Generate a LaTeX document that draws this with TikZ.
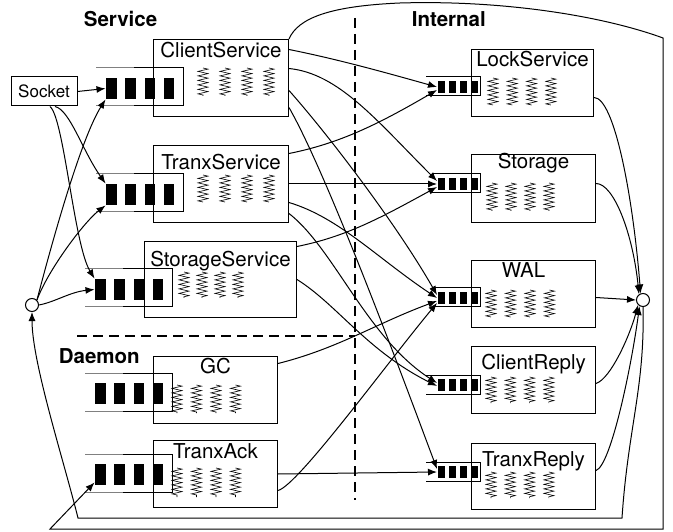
\documentclass[tikz,border=0pt]{standalone}
\usepackage{fontspec}
\setmainfont{TeX Gyre Heros}
\usetikzlibrary{arrows.meta,decorations.pathmorphing}

\newcommand{\modfont}{\fontsize{20.5}{24}\selectfont}

\tikzset{
  module/.style={draw,rectangle,inner sep=0pt,anchor=north west},
  bigbar/.style={fill=black,inner sep=0pt,minimum width=10.5pt,minimum height=21pt,anchor=north west},
  smallbar/.style={fill=black,inner sep=0pt,minimum width=7pt,minimum height=12pt,anchor=north west},
  worker/.style={line width=0.6pt,decorate,decoration={zigzag,segment length=4.5pt,amplitude=5pt}},
  flow/.style={-{Latex[length=9pt,width=7pt]}},
  hub/.style={circle,draw,fill=white,inner sep=0pt,minimum size=13pt},
  title/.style={font=\modfont\bfseries,anchor=base west},
  divider/.style={line width=2pt,dash pattern=on 10pt off 6pt}
}

\begin{document}
\begin{tikzpicture}[x=1pt,y=-1pt,line width=1pt,font=\modfont]
  \useasboundingbox (0,0) rectangle (673,532);

  % modules: name/left/top/right/bottom/text/baseline/shift
  \foreach \n/\xa/\ya/\xb/\yb/\txt/\base/\dx in {
      cs/153/39/288/116/ClientService/19/0,
      ts/153/145/288/222/TranxService/25/0,
      ss/144/241/296/317/StorageService/26/0,
      gc/153/356/277/423/GC/17/0,
      ta/153/440/277/507/TranxAck/18/0,
      lock/471/49/593/116/LockService/18/0,
      stor/471/154/595/222/Storage/15/0,
      wal/471/260/595/327/WAL/17/-10,
      crep/471/346/595/413/ClientReply/23/0,
      trep/471/443/595/509/TranxReply/23/0}
  {
    \node[module,minimum width={(\xb-\xa)*1pt},minimum height={(\yb-\ya)*1pt}] (\n) at (\xa,\ya) {};
    \node[anchor=base] (\n-txt) at ([xshift=\dx pt,yshift=-\base pt]\n.north) {\txt};
  }

  % worker threads: first x/spacing/top/bottom
  \foreach \x/\s/\ya/\yb in {203/22/68/96, 203/22/175/202, 184/18/272/298,
      177/19.5/385/413, 177/19.5/468/497, 493/19.3/78/105, 492/19/183/211,
      491/19.5/290/317, 491/19.3/377/403, 491/19.3/472/498}
    \foreach \i in {0,...,3}
      \draw[worker] ({\x+\s*\i},\ya) -- ({\x+\s*\i},\yb);

  % service queues
  \foreach \q/\xa/\ya in {csq/96/68, tsq/96/174, ssq/85/269, gcq/85/373, taq/85/454} {
    \draw[black!50] (\xa,\ya) -- (\xa+38,\ya) (\xa,\ya+38) -- (\xa+38,\ya+38);
    \draw (\xa+38,\ya) -- (\xa+87,\ya) -- (\xa+87,\ya+38) -- (\xa+38,\ya+38);
    \foreach \i in {1,...,4}
      \node[bigbar] (\q\i) at ({\xa+9.5+19.3*(\i-1)},\ya+9.5) {};
  }

  % internal queues
  \foreach \q/\xa/\ya in {lockq/426/77, storq/432/174, walq/433/288, crepq/426/375, trepq/426/462} {
    \draw (\xa,\ya) -- (480,\ya) -- (480,\ya+19) -- (\xa,\ya+19);
    \foreach \i in {1,...,4}
      \node[smallbar] (\q\i) at ({437+11*(\i-1)},\ya+3.5) {};
  }

  \node[draw,minimum width=66pt,minimum height=29pt,inner sep=0pt,font=\fontsize{17}{20}\selectfont] (sock) at (44,91.5) {Socket};
  \node[hub] (lc) at (32,305) {};
  \node[hub] (rc) at (643,300) {};

  \node[title] (svc) at (80,27) {Service};
  \node[title] (int) at (408,27) {Internal};
  \node[title] (dmn) at (55,363) {Daemon};

  \draw[divider] (355,18) -- (355,500);
  \draw[divider] (77,336) -- (355,336);

  % requests in
  \draw[flow] (sock.east) -- (csq1.west);
  \draw[flow] ([xshift=11pt]sock.south) .. controls (70,110) and (82,150) .. (tsq1.north west);
  \draw[flow] ([xshift=6pt]sock.south) .. controls (64,118) and (74,245) .. (ssq1.north west);
  \draw[flow] (lc.north east) .. controls (50,250) and (80,140) .. (csq1.south west);
  \draw[flow] (lc.north east) .. controls (48,270) and (84,222) .. (tsq1.south west);
  \draw[flow] (lc.east) .. controls (55,302) and (70,292) .. (ssq1.west);

  % service to internal
  \draw[flow] ([yshift=28.5pt]cs.east) .. controls +(50,10) and +(-50,-14) .. (lockq1.west);
  \draw[flow] ([yshift=9.5pt]cs.east) .. controls +(50,5) and +(-60,-60) .. ([yshift=3pt]storq1.west);
  \draw[flow] ([yshift=-12.5pt]cs.east) .. controls +(40,45) and +(-40,-70) .. ([yshift=3pt]walq1.west);
  \draw[flow] ([yshift=-29.5pt]cs.east) .. controls +(40,70) and +(-30,-80) .. ([yshift=3pt]trepq1.west);
  \draw[flow] ([yshift=30.5pt]ts.east) .. controls +(50,-10) and +(-60,35) .. ([yshift=-3pt]lockq1.west);
  \draw[flow] (ts.east) -- (storq1.west);
  \draw[flow] ([yshift=-18.5pt]ts.east) .. controls +(50,15) and +(-60,-40) .. (walq1.west);
  \draw[flow] ([yshift=-29.5pt]ts.east) .. controls +(45,35) and +(-70,-45) .. ([yshift=2pt]crepq1.west);
  \draw[flow] ([yshift=33pt]ss.east) .. controls +(50,-10) and +(-55,30) .. ([yshift=-3pt]storq1.west);
  \draw[flow] (ss.east) .. controls +(40,25) and +(-70,-35) .. ([yshift=-1pt]crepq1.west);
  \draw[flow] ([yshift=26.5pt]gc.east) .. controls +(60,-15) and +(-60,22) .. ([yshift=-3pt]walq1.west);
  \draw[flow] ([yshift=-16.5pt]ta.east) .. controls +(20,-5) and +(-50,60) .. ([yshift=-5pt]walq1.west);
  \draw[flow] (ta.east) -- (trepq1.west);

  % internal to reply hub
  \draw[flow] ([yshift=-14.5pt]lock.east) .. controls +(20,0) and +(-8,-100) .. (rc.110);
  \draw[flow] ([yshift=5pt]stor.east) .. controls +(18,0) and +(-6,-60) .. (rc.125);
  \draw[flow] ([yshift=-3.5pt]wal.east) -- (rc.west);
  \draw[flow] ([yshift=-3.5pt]crep.east) .. controls +(15,-5) and +(-8,30) .. (rc.225);
  \draw[flow] ([yshift=6pt]trep.east) .. controls +(15,-5) and +(-8,60) .. (rc.240);

  % loops back
  \coordinate (br) at (622,518);
  \coordinate (bl) at (78,518);
  \draw[flow] (rc.south) .. controls +(2,80) and +(6,-90) .. (br) -- (bl) .. controls +(-15,-60) and +(0,50) .. (lc.south);
  \coordinate (tr) at (663,38);
  \coordinate (brr) at (663,529);
  \coordinate (bll) at (50,529);
  \draw[flow] (cs.north east) .. controls (298,18) and (330,6) .. (400,3) .. controls (500,0) and (600,15) .. (tr) -- (brr) -- (bll) -- ([yshift=3pt]taq1.south west);
\end{tikzpicture}
\end{document}
